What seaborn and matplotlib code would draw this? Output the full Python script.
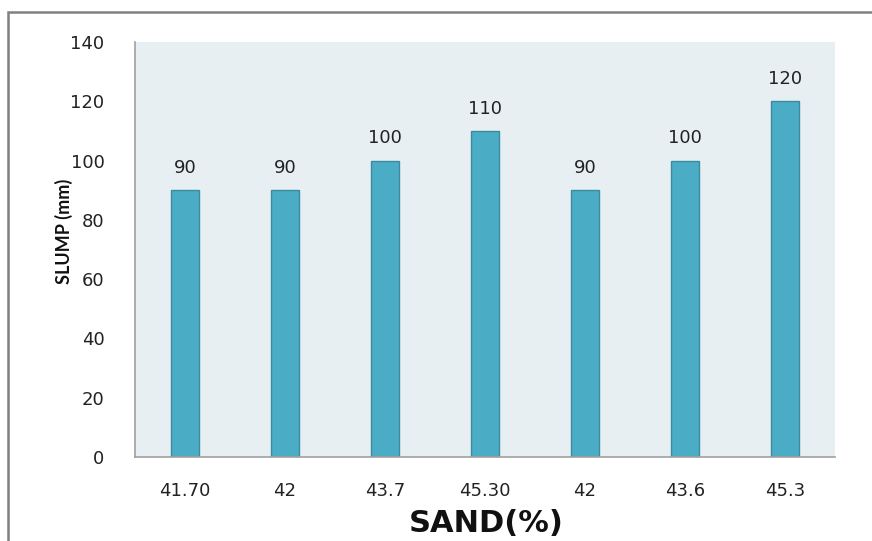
import matplotlib
matplotlib.use("Agg")
import matplotlib.pyplot as plt
import seaborn as sns
import pandas as pd
from matplotlib.patches import Rectangle

# Slump test results for each sand percentage (mix order)
sand_labels = ["41.70", "42", "43.7", "45.30", "42", "43.6", "45.3"]
slump_mm = [90, 90, 100, 110, 90, 100, 120]

df = pd.DataFrame({"mix": range(len(sand_labels)), "slump": slump_mm})

sns.set_theme(style="white")
plt.rcParams["font.family"] = ["DejaVu Sans"]

fig = plt.figure(figsize=(8.72, 5.41), dpi=100)
ax = fig.add_axes([135 / 872, 84 / 541, 700 / 872, 415 / 541])

bar_color = "#4BACC6"
sns.barplot(data=df, x="mix", y="slump", ax=ax, color=bar_color,
            width=0.28, saturation=1, edgecolor="#3B8BA0", linewidth=1.0)

ax.set_facecolor("#E8EFF3")
ax.set_ylim(0, 140)
ax.set_yticks(range(0, 141, 20))
ax.set_xlim(-0.5, len(sand_labels) - 0.5)
ax.set_xticks(range(len(sand_labels)), sand_labels)

# value labels above each bar
for i, v in enumerate(slump_mm):
    ax.text(i, v + 4.5, f"{v}", ha="center", va="bottom",
            fontsize=13, color="#222222")

ax.tick_params(axis="both", length=0, labelsize=13, colors="#222222")
ax.tick_params(axis="y", pad=22)
ax.tick_params(axis="x", pad=18)

for side in ["top", "right"]:
    ax.spines[side].set_visible(False)
for side in ["left", "bottom"]:
    ax.spines[side].set_color("#A0A0A0")
    ax.spines[side].set_linewidth(1.2)

ax.set_xlabel("")
ax.set_ylabel("")
fig.text(64 / 872, 1 - 231 / 541, "SLUMP (mm)", rotation=90, ha="center",
         va="center", fontsize=13, fontweight="bold", family=["Lato", "DejaVu Sans"],
         color="#111111")
fig.text(486 / 872, 1 - 523 / 541, "SAND(%)", ha="center", va="center",
         fontsize=22, fontweight="bold", color="#111111")

# outer chart frame
fig.patches.append(Rectangle((8 / 872, -0.1), 1.2, 1 - 12 / 541 + 0.1,
                             transform=fig.transFigure, fill=False,
                             edgecolor="#808080", linewidth=1.8))

fig.savefig("out.png", dpi=100)
